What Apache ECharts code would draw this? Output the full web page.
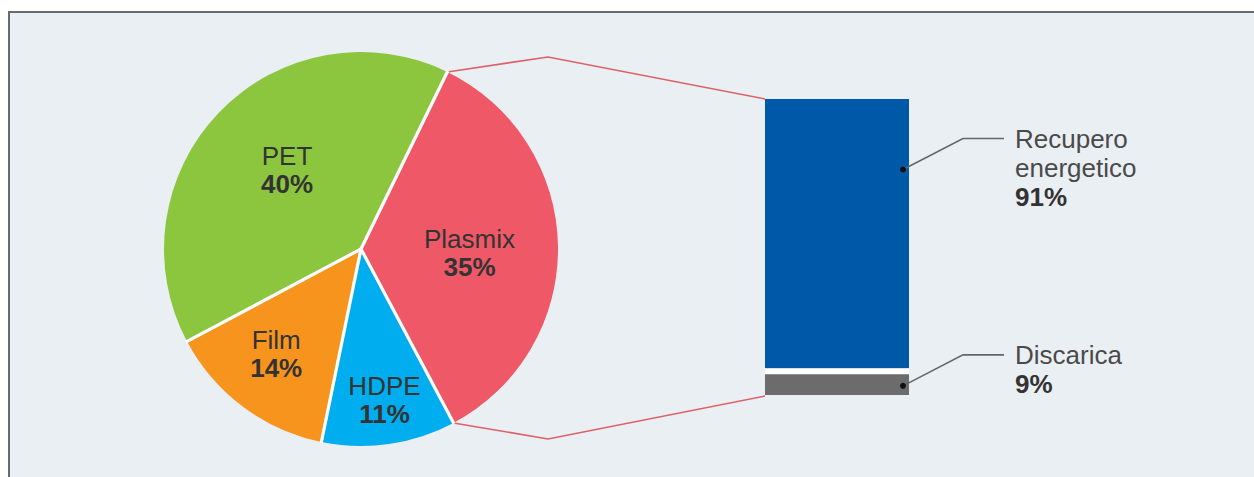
<!DOCTYPE html>
<html><head><meta charset="utf-8">
<script src="https://cdn.jsdelivr.net/npm/echarts@6/dist/echarts.min.js"></script>
<style>
html,body{margin:0;padding:0;background:#fff;}
#panel{position:absolute;left:8px;top:11px;width:1300px;height:500px;background:#eaeff3;border-left:2.5px solid #6a6a6a;border-top:2.5px solid #6a6a6a;}
#c,#tmp{position:absolute;left:0;top:0;width:1254px;height:477px;}
#tmp{visibility:hidden;}
</style>
</head><body><div id="panel"></div><div id="tmp"></div><div id="c"></div>
<script>
// ---- data ----
const pieNames = ['Plasmix', 'HDPE', 'Film', 'PET'];
const pieValues = [35, 11, 14, 40];
const barNames = ['Discarica', 'Recupero energetico'];
const barValues = [9, 91];
const barLabelLines = [['Discarica'], ['Recupero', 'energetico']];

// ---- styles ----
const pieColors = ['#ef5867', '#00adee', '#f7941e', '#8cc63f'];
const barColors = ['#6c6c6c', '#0058a9'];
const labelShift = [[7, 6], [9, 51], [-24, 24], [-1, -8]];
const PIE_C = [361, 249], PIE_R = 197, START = 64;
const FONT = '"Liberation Sans", Arial, Helvetica, sans-serif';
const FS = 26;

const pieData = pieNames.map((n, i) => ({name: n, value: pieValues[i], itemStyle: {color: pieColors[i]}}));

const barLabelPos = [[250, -28], [250, 25]];
const barSeries = barNames.map((n, i) => ({
  type: 'bar', name: n, stack: 'tot', barWidth: '100%',
  data: [barValues[i]],
  itemStyle: {color: barColors[i]},
  silent: true,
  label: {
    show: true, position: barLabelPos[i], align: 'left', verticalAlign: 'top',
    formatter: () => barLabelLines[i].map(t => '{n|' + t + '}').join('\n') + '\n{p|' + barValues[i] + '%}',
    rich: {
      n: {fontFamily: FONT, fontSize: FS, color: '#4a4a4a', lineHeight: 29},
      p: {fontFamily: FONT, fontSize: FS, fontWeight: 'bold', color: '#333', lineHeight: 29}
    }
  }
}));

const base = {
  backgroundColor: 'transparent',
  animation: false,
  grid: {left: 765, width: 144, top: 99, height: 296},
  xAxis: {type: 'category', data: ['Plastica'], show: false},
  yAxis: {type: 'value', min: 0, max: 100, show: false}
};

// measure bar geometry with the library's own scales
const tmp = echarts.init(document.getElementById('tmp'), null, {renderer: 'svg'});
tmp.setOption(Object.assign({}, base, {series: barSeries}));
const rect = tmp.getModel().getComponent('grid').coordinateSystem.getRect();
const yBoundary = tmp.convertToPixel({gridIndex: 0}, [0, barValues[0]])[1];
const yTop = tmp.convertToPixel({gridIndex: 0}, [0, barValues[0] + barValues[1]])[1];
const yBottom = tmp.convertToPixel({gridIndex: 0}, [0, 0])[1];
tmp.dispose();
const right = rect.x + rect.width;

// pie boundary angles from the data
const total = pieValues.reduce((a, b) => a + b, 0);
const bounds = [];
let acc = 0;
pieValues.forEach(v => { bounds.push((START - acc / total * 360) * Math.PI / 180); acc += v; });
const edge = (a, r) => [PIE_C[0] + r * Math.cos(a), PIE_C[1] - r * Math.sin(a)];
const pTop = edge(bounds[0], PIE_R);
const pBot = edge(bounds[1], PIE_R);

const elements = [];
// white separators between slices
bounds.forEach(a => {
  elements.push({type: 'line', shape: {x1: PIE_C[0], y1: PIE_C[1], x2: edge(a, PIE_R + 1)[0], y2: edge(a, PIE_R + 1)[1]},
    style: {stroke: '#ffffff', lineWidth: 3.2}, z: 50});
});
const red = {stroke: '#dd6068', lineWidth: 1.6, fill: 'none'};
elements.push(
  {type: 'polyline', shape: {points: [pTop, [PIE_C[0] + 187, pTop[1] - 15], [rect.x, yTop]]}, style: red, z: 1},
  {type: 'polyline', shape: {points: [pBot, [PIE_C[0] + 187, pBot[1] + 16], [rect.x, yBottom + 1]]}, style: red, z: 1},
  {type: 'rect', shape: {x: rect.x, y: yBoundary, width: rect.width, height: 6}, style: {fill: '#ffffff'}, z: 100}
);
[yBoundary, yTop].forEach((t, i) => {
  const top = t + barLabelPos[i][1];
  const l1 = top + 14.5, l2 = top + 43.5 + 2;
  elements.push({type: 'polyline', shape: {points: [[right - 6, l2], [right + 54, l1], [right + 95, l1]]},
    style: {stroke: '#666', lineWidth: 1.6, fill: 'none'}, z: 100});
  elements.push({type: 'circle', shape: {cx: right - 6, cy: l2, r: 3}, style: {fill: '#111'}, z: 101});
});

const chart = echarts.init(document.getElementById('c'), null, {renderer: 'svg'});
chart.setOption(Object.assign({}, base, {
  series: [{
    type: 'pie', center: PIE_C, radius: PIE_R, startAngle: START, clockwise: true,
    data: pieData, silent: true, z: 1,
    itemStyle: {borderWidth: 0},
    label: {
      show: true, position: 'inside',
      formatter: '{n|{b}}\n{p|{c}%}',
      rich: {
        n: {fontFamily: FONT, fontSize: FS, color: '#333', lineHeight: 28},
        p: {fontFamily: FONT, fontSize: FS, fontWeight: 'bold', color: '#333', lineHeight: 28}
      }
    },
    labelLine: {show: false},
    labelLayout: (p) => ({dx: labelShift[p.dataIndex][0], dy: labelShift[p.dataIndex][1]})
  }].concat(barSeries),
  graphic: {elements: elements}
}));
</script>
</body></html>
